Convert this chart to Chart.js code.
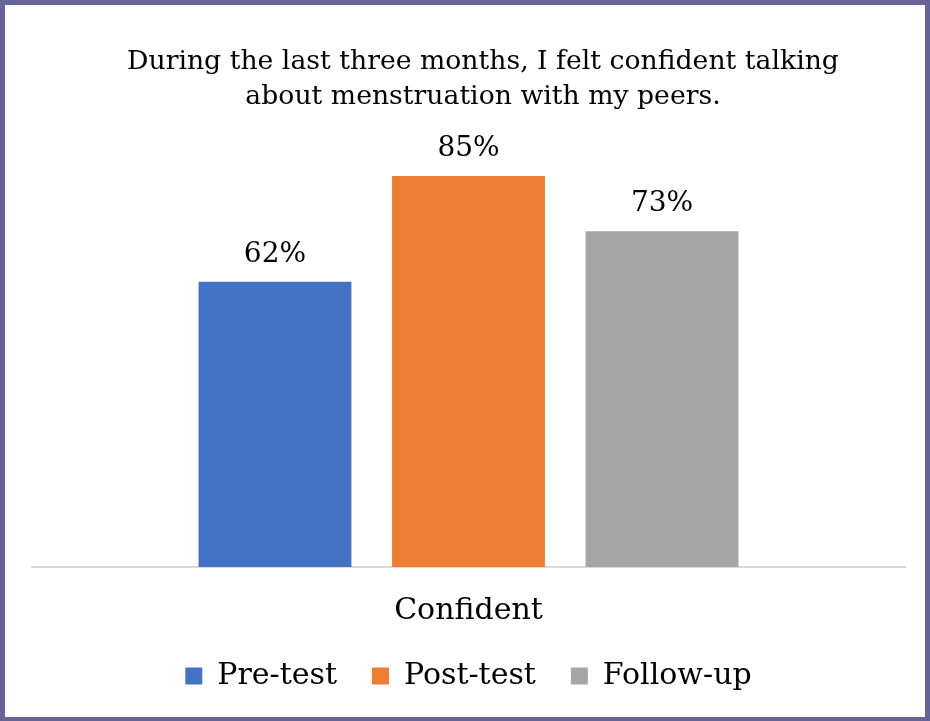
<!DOCTYPE html>
<html>
<head>
<meta charset="utf-8">
<script src="https://cdn.jsdelivr.net/npm/chart.js@4"></script>
<style>
html,body{margin:0;padding:0;background:#fff;}
#wrap{width:930px;height:721px;position:relative;}
</style>
</head>
<body>
<div id="wrap"><canvas id="c" width="930" height="721"></canvas></div>
<script>
const categories = ["Confident"];
const seriesNames = ["Pre-test", "Post-test", "Follow-up"];
const preTest = [62];
const postTest = [85];
const followUp = [73];
const seriesColors = ["#4472C4", "#ED7D31", "#A5A5A5"];
const titleLines = ["During the last three months, I felt confident talking", "about menstruation with my peers."];

const FONT = "'DejaVu Serif', serif";

const frame = {
  id: 'frame',
  beforeDraw(chart) {
    const ctx = chart.ctx;
    ctx.save();
    ctx.fillStyle = '#fff';
    ctx.fillRect(0, 0, chart.width, chart.height);
    ctx.restore();
  },
  afterDraw(chart) {
    const ctx = chart.ctx;
    ctx.save();
    // title
    ctx.font = "26.7px " + FONT;
    ctx.fillStyle = '#000';
    ctx.textAlign = 'center';
    ctx.textBaseline = 'middle';
    titleLines.forEach((t, i) => ctx.fillText(t, 483, 62.5 + i * 35));
    // border
    ctx.fillStyle = '#67649A';
    ctx.fillRect(0, 0, chart.width, 5);
    ctx.fillRect(0, 0, 5, chart.height);
    ctx.fillRect(chart.width - 5, 0, 5, chart.height);
    ctx.fillRect(0, chart.height - 4, chart.width, 4);
    ctx.restore();
  }
};

const valueLabels = {
  id: 'valueLabels',
  afterDatasetsDraw(chart) {
    const ctx = chart.ctx;
    ctx.save();
    ctx.font = "28px " + FONT;
    ctx.fillStyle = '#000';
    ctx.textAlign = 'center';
    ctx.textBaseline = 'alphabetic';
    chart.data.datasets.forEach((ds, i) => {
      const meta = chart.getDatasetMeta(i);
      meta.data.forEach((bar, j) => {
        ctx.fillText(ds.data[j] + '%', bar.x, bar.y - 20);
      });
    });
    ctx.restore();
  }
};

new Chart(document.getElementById('c'), {
  type: 'bar',
  data: {
    labels: categories,
    datasets: [
      { label: seriesNames[0], data: preTest, backgroundColor: seriesColors[0] },
      { label: seriesNames[1], data: postTest, backgroundColor: seriesColors[1] },
      { label: seriesNames[2], data: followUp, backgroundColor: seriesColors[2] }
    ]
  },
  options: {
    responsive: false,
    animation: false,
    layout: { padding: { left: 32, right: 25, top: 153, bottom: 20 } },
    datasets: { bar: { categoryPercentage: 0.665, barPercentage: 0.79 } },
    plugins: {
      title: { display: false },
      legend: {
        position: 'bottom',
        labels: {
          color: '#000',
          font: { family: FONT, size: 30 },
          boxWidth: 17,
          boxHeight: 17,
          padding: 35
        }
      },
      tooltip: { enabled: false }
    },
    scales: {
      x: {
        grid: { display: false },
        border: { display: true, color: '#D9D9D9', width: 2 },
        ticks: { color: '#000', font: { family: FONT, size: 30 }, padding: 18 },
        afterFit(scale) { scale.height -= 21; }
      },
      y: {
        display: false,
        min: 0,
        max: 90
      }
    }
  },
  plugins: [frame, valueLabels]
});
</script>
</body>
</html>
